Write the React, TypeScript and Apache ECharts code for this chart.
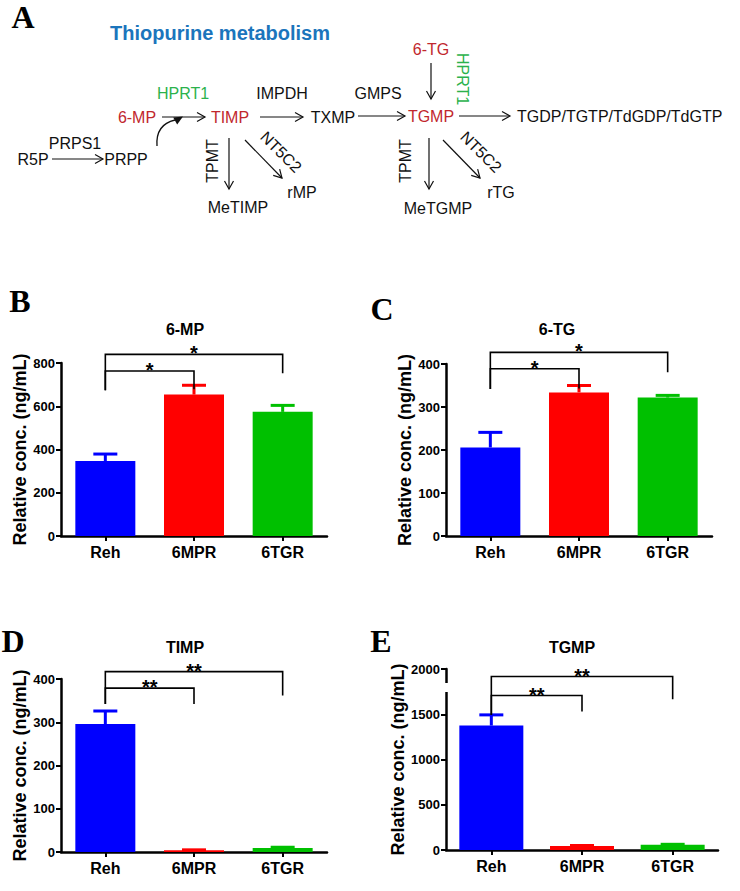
import React, { useEffect, useRef } from 'react';
import * as echarts from 'echarts';

// ---------- data ----------
const categories = ['Reh', '6MPR', '6TGR'];
const barColors = ['#0000ff', '#ff0000', '#00c000'];

const mpMeans = [347, 654, 574];
const mpErrors = [32, 43, 30];
const tgMeans = [206, 334, 322];
const tgErrors = [35, 16, 5];
const timpMeans = [296, 4, 9];
const timpErrors = [30, 1, 2];
const tgmpMeans = [1375, 44, 58];
const tgmpErrors = [118, 6, 5];

// brackets: [fromIndex, toIndex, topValue, leftLegEndValue, rightLegEndValue]
const mpBrackets = [[0, 1, 763, 674, 679], [0, 2, 840, 674, 753]];
const mpStars = ['*', '*'];
const tgBrackets = [[0, 1, 389, 342, 343], [0, 2, 427, 342, 381]];
const tgStars = ['*', '*'];
const timpBrackets = [[0, 1, 379, 342, 342], [0, 2, 417, 342, 362]];
const timpStars = ['**', '**'];
const tgmpBrackets = [[0, 1, 1707, 1493, 1530], [0, 2, 1917, 1493, 1667]];
const tgmpStars = ['**', '**'];

const panelTitles = ['6-MP', '6-TG', 'TIMP', 'TGMP'];
const yMax = [800, 400, 400, 2000];
const yInterval = [200, 100, 100, 500];
const yAxisName = 'Relative conc. (ng/mL)';

const FONT = '"Liberation Sans", Arial, sans-serif';
const RED = '#c1272d';
const GREEN = '#2bb24c';
const BLUE = '#1b75bc';

function arrow(x1: number, y1: number, x2: number, y2: number): any[] {
  const dx = x2 - x1, dy = y2 - y1;
  const len = Math.hypot(dx, dy);
  const ux = dx / len, uy = dy / len;
  const px = -uy, py = ux;
  const head = 8, hw = 4.5;
  const bx = x2 - ux * head, by = y2 - uy * head;
  return [
    { type: 'line', shape: { x1, y1, x2, y2 }, style: { stroke: '#111', lineWidth: 1.2 } },
    {
      type: 'polyline',
      shape: { points: [[bx + px * hw, by + py * hw], [x2, y2], [bx - px * hw, by - py * hw]] },
      style: { stroke: '#111', lineWidth: 1.2, fill: null },
    },
  ];
}

function label(text: string, x: number, y: number, color = '#111', rotation = 0, extra: any = {}): any {
  return {
    type: 'text',
    x,
    y,
    rotation,
    style: {
      text,
      font: `16px ${FONT}`,
      fill: color,
      align: 'center',
      verticalAlign: 'middle',
      ...extra,
    },
  };
}

function filledHead(tx: number, ty: number, dirx: number, diry: number): any {
  const l = Math.hypot(dirx, diry);
  const ux = dirx / l, uy = diry / l;
  const px = -uy, py = ux;
  const head = 9, hw = 4;
  const bx = tx - ux * head, by = ty - uy * head;
  return {
    type: 'polygon',
    shape: { points: [[tx, ty], [bx + px * hw, by + py * hw], [bx - px * hw, by - py * hw]] },
    style: { fill: '#111' },
  };
}

const App: React.FC = () => {
  const ref = useRef<HTMLDivElement>(null);

  useEffect(() => {
    if (!ref.current) return;
    const chart = echarts.init(ref.current, undefined, { renderer: 'svg' });

    const grids = [
      { left: 61, top: 363, width: 266, height: 173 },
      { left: 446, top: 364, width: 266, height: 172 },
      { left: 61, top: 679, width: 266, height: 173 },
      { left: 446, top: 669, width: 272, height: 181 },
    ];
    const means = [mpMeans, tgMeans, timpMeans, tgmpMeans];
    const errs = [mpErrors, tgErrors, timpErrors, tgmpErrors];
    const brackets = [mpBrackets, tgBrackets, timpBrackets, tgmpBrackets];
    const stars = [mpStars, tgStars, timpStars, tgmpStars];
    const barWidths = [60, 60, 60, 64];

    const xAxes = grids.map((_, i) => ({
      type: 'category',
      gridIndex: i,
      data: categories,
      axisLine: { lineStyle: { color: '#000', width: 2.5 } },
      axisTick: { show: true, alignWithLabel: true, length: 5, lineStyle: { color: '#000', width: 2 } },
      axisLabel: { color: '#000', fontFamily: FONT, fontWeight: 'bold', fontSize: 16, margin: 8 },
    }));

    const yAxes = grids.map((_, i) => ({
      type: 'value',
      gridIndex: i,
      min: 0,
      max: yMax[i],
      interval: yInterval[i],
      name: yAxisName,
      nameLocation: 'middle',
      nameGap: 26,
      nameTextStyle: { color: '#000', fontFamily: FONT, fontWeight: 'bold', fontSize: 18 },
      axisLine: { show: true, lineStyle: { color: '#000', width: 2.5 } },
      axisTick: { show: true, length: 5, lineStyle: { color: '#000', width: 2 } },
      splitLine: { show: false },
      axisLabel: {
        color: '#000',
        fontFamily: FONT,
        fontWeight: 'bold',
        fontSize: 13,
        margin: 6,
        formatter: (v: number) => String(v),
      },
    }));

    const series: any[] = [];
    grids.forEach((_, gi) => {
      series.push({
        type: 'bar',
        xAxisIndex: gi,
        yAxisIndex: gi,
        barWidth: barWidths[gi],
        data: means[gi].map((v, i) => ({ value: v, itemStyle: { color: barColors[i] } })),
        z: 2,
      });
      series.push({
        type: 'custom',
        xAxisIndex: gi,
        yAxisIndex: gi,
        encode: { x: 0, y: 2 },
        data: means[gi].map((m, i) => [i, m, m + errs[gi][i]]),
        renderItem: (params: any, api: any) => {
          const i = api.value(0);
          const base = api.coord([i, api.value(1)]);
          const top = api.coord([i, api.value(2)]);
          const color = barColors[i];
          return {
            type: 'group',
            children: [
              { type: 'line', shape: { x1: base[0], y1: base[1], x2: top[0], y2: top[1] }, style: { stroke: color, lineWidth: 3 } },
              { type: 'line', shape: { x1: top[0] - 12, y1: top[1], x2: top[0] + 12, y2: top[1] }, style: { stroke: color, lineWidth: 3 } },
            ],
          };
        },
        z: 3,
      });
      series.push({
        type: 'custom',
        xAxisIndex: gi,
        yAxisIndex: gi,
        encode: { x: 0, y: 2 },
        clip: false,
        data: brackets[gi].map((b, k) => [...b, k]),
        renderItem: (params: any, api: any) => {
          const a = api.coord([api.value(0), api.value(2)]);
          const b = api.coord([api.value(1), api.value(2)]);
          const l = api.coord([api.value(0), api.value(3)]);
          const r = api.coord([api.value(1), api.value(4)]);
          const k = api.value(5);
          return {
            type: 'group',
            children: [
              {
                type: 'polyline',
                shape: { points: [[l[0], l[1]], [a[0], a[1]], [b[0], b[1]], [r[0], r[1]]] },
                style: { stroke: '#000', lineWidth: 1.6, fill: null },
              },
              {
                type: 'text',
                x: (a[0] + b[0]) / 2,
                y: a[1] - 1,
                style: {
                  text: stars[gi][k],
                  font: `bold 20px ${FONT}`,
                  fill: '#000',
                  align: 'center',
                  verticalAlign: 'middle',
                },
              },
            ],
          };
        },
        z: 4,
      });
    });

    const titlePos = [[185, 329], [557, 329], [185, 647], [572, 647]];
    const letters = [['A', 23, 17], ['B', 20, 301], ['C', 382, 309], ['D', 13, 641], ['E', 381, 641]];

    const graphic: any[] = [
      ...letters.map(([t, x, y]) => ({
        type: 'text',
        x,
        y,
        style: { text: t, font: `bold 32px "Liberation Serif", "Times New Roman", serif`, fill: '#000', align: 'center', verticalAlign: 'middle' },
      })),
      ...panelTitles.map((t, i) => ({
        type: 'text',
        x: titlePos[i][0],
        y: titlePos[i][1],
        style: { text: t, font: `bold 16px ${FONT}`, fill: '#000', align: 'center', verticalAlign: 'middle' },
      })),
      // axis break on panel E
      { type: 'rect', shape: { x: 438, y: 683, width: 14, height: 9 }, style: { fill: '#fff' }, z: 100 },
      // pathway diagram
      label('Thiopurine metabolism', 220, 33, BLUE, 0, { font: `bold 20px ${FONT}` }),
      label('HPRT1', 183, 93, GREEN),
      label('IMPDH', 282, 93),
      label('GMPS', 378, 93),
      label('6-MP', 137, 117, RED),
      label('TIMP', 230, 117, RED),
      label('TXMP', 333, 117),
      label('TGMP', 431, 116, RED),
      label('TGDP/TGTP/TdGDP/TdGTP', 517, 116, '#111', 0, { align: 'left' }),
      label('6-TG', 431, 49, RED),
      label('HPRT1', 462, 79, GREEN, -Math.PI / 2),
      label('PRPS1', 75, 143),
      label('R5P', 33, 159),
      label('PRPP', 126, 159),
      label('TPMT', 212, 161, '#111', Math.PI / 2),
      label('NT5C2', 281, 152, '#111', -Math.PI / 4),
      label('rMP', 302, 192),
      label('MeTIMP', 238, 207),
      label('TPMT', 405, 161, '#111', Math.PI / 2),
      label('NT5C2', 481, 152, '#111', -Math.PI / 4),
      label('rTG', 501, 192),
      label('MeTGMP', 438, 208),
      ...arrow(52, 159, 103, 159),
      ...arrow(162, 117, 205, 117),
      ...arrow(260, 117, 303, 117),
      ...arrow(358, 116, 405, 116),
      ...arrow(459, 116, 510, 116),
      ...arrow(431, 63, 431, 99),
      ...arrow(229, 138, 229, 189),
      ...arrow(245, 140, 282, 178),
      ...arrow(429, 138, 429, 189),
      ...arrow(443, 140, 480, 178),
      {
        type: 'bezierCurve',
        shape: { x1: 157, y1: 146, cpx1: 156, cpy1: 132, cpx2: 162, cpy2: 123, x2: 175, y2: 120 },
        style: { stroke: '#111', lineWidth: 1.3, fill: null },
      },
      filledHead(183, 116.5, 0.87, -0.5),
    ];

    chart.setOption({
      animation: false,
      backgroundColor: '#fff',
      textStyle: { fontFamily: FONT },
      grid: grids,
      xAxis: xAxes,
      yAxis: yAxes,
      series,
      graphic,
    });

    return () => chart.dispose();
  }, []);

  return <div ref={ref} style={{ position: 'absolute', left: 0, top: 0, width: 740, height: 891 }} />;
};

export default App;
